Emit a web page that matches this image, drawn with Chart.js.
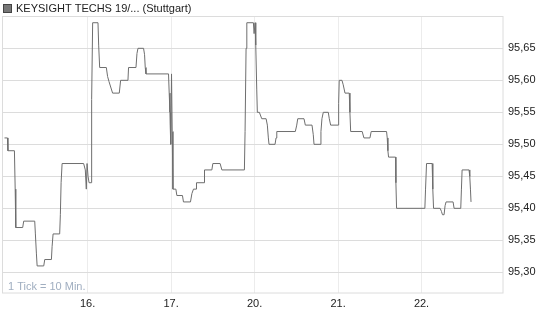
<!DOCTYPE html>
<html>
<head>
<meta charset="utf-8">
<script src="https://cdn.jsdelivr.net/npm/chart.js@4/dist/chart.umd.min.js"></script>
<style>
html,body{margin:0;padding:0;background:#fff;}
#wrap{width:545px;height:327px;position:relative;}
</style>
</head>
<body>
<div id="wrap"><canvas id="c" width="545" height="327"></canvas></div>
<script>
const seriesTitle = 'KEYSIGHT TECHS 19/... (Stuttgart)';
const noteText = '1 Tick = 10 Min.';
const xTickPositions = [1, 2, 3, 4, 5];
const xTickLabels = ['16.', '17.', '20.', '21.', '22.'];
const yTicks = [95.30, 95.35, 95.40, 95.45, 95.50, 95.55, 95.60, 95.65];

// time in trading-day units (0 = 15th), price values
const times = [
  0.004,0.039,0.045,0.123,0.132,0.139,0.222,0.234,0.366,0.374,
  0.386,0.395,0.474,0.486,0.566,0.574,0.586,0.665,0.673,0.682,
  0.694,0.952,0.972,0.984,0.993,1.005,1.017,1.044,1.048,1.060,
  1.124,1.132,1.144,1.224,1.239,1.256,1.299,1.379,1.395,1.483,
  1.490,1.579,1.591,1.603,1.670,1.682,1.690,1.699,1.969,1.977,
  1.986,1.989,1.993,1.998,2.005,2.013,2.022,2.057,2.069,2.136,
  2.148,2.232,2.249,2.268,2.300,2.304,2.396,2.400,2.488,2.500,
  2.587,2.608,2.878,2.886,2.898,2.907,2.986,2.994,3.006,3.014,
  3.026,3.033,3.057,3.086,3.138,3.153,3.165,3.173,3.245,3.257,
  3.266,3.488,3.505,3.517,3.592,3.608,3.688,3.703,3.712,3.784,
  3.795,3.807,3.823,3.883,3.895,3.911,4.002,4.007,4.014,4.047,
  4.062,4.083,4.134,4.142,4.151,4.289,4.310,4.382,4.397,4.581,
  4.589,4.597,4.605,4.689,4.693,4.701,5.040,5.048,5.060,5.127,
  5.135,5.144,5.223,5.239,5.251,5.270,5.282,5.294,5.378,5.390,
  5.470,5.478,5.486,5.569,5.578,5.586,5.593
];
const prices = [
  95.51,95.51,95.49,95.49,95.43,95.37,95.37,95.38,95.38,95.36,
  95.33,95.31,95.31,95.32,95.32,95.34,95.36,95.36,95.39,95.44,
  95.47,95.47,95.46,95.43,95.47,95.45,95.44,95.44,95.57,95.69,
  95.69,95.655,95.62,95.62,95.606,95.598,95.58,95.58,95.60,95.60,
  95.62,95.62,95.642,95.65,95.65,95.64,95.62,95.61,95.61,95.58,
  95.55,95.53,95.55,95.50,95.61,95.52,95.43,95.43,95.42,95.42,
  95.41,95.41,95.423,95.43,95.43,95.44,95.44,95.46,95.46,95.47,
  95.47,95.46,95.46,95.52,95.65,95.69,95.69,95.673,95.69,95.655,
  95.585,95.55,95.55,95.54,95.54,95.53,95.51,95.50,95.50,95.51,
  95.52,95.52,95.53,95.54,95.54,95.53,95.53,95.515,95.50,95.50,
  95.52,95.54,95.55,95.55,95.54,95.53,95.53,95.564,95.60,95.60,
  95.593,95.58,95.58,95.55,95.52,95.52,95.51,95.51,95.52,95.52,
  95.51,95.49,95.48,95.48,95.44,95.40,95.40,95.43,95.47,95.47,
  95.43,95.40,95.40,95.395,95.39,95.39,95.404,95.41,95.41,95.40,
  95.40,95.43,95.46,95.46,95.45,95.43,95.41
];

const FONT = "'Liberation Sans', Arial, sans-serif";

const decor = {
  id: 'decor',
  beforeDatasetsDraw(chart) {
    const {ctx, chartArea: a} = chart;
    ctx.save();
    ctx.fillStyle = '#a0aec0';
    ctx.font = '11px ' + FONT;
    ctx.textBaseline = 'middle';
    ctx.textAlign = 'left';
    ctx.fillText(noteText, a.left + 5, a.bottom - 6);
    ctx.restore();
  },
  afterDraw(chart) {
    const {ctx, chartArea: a} = chart;
    ctx.save();
    ctx.strokeStyle = '#dcdcdc';
    ctx.lineWidth = 1;
    ctx.strokeRect(Math.round(a.left) - 0.5, Math.round(a.top) + 0.5, Math.round(a.right - a.left) + 0.5, Math.round(a.bottom - a.top) - 0.5);
    // legend
    ctx.fillStyle = '#777';
    ctx.fillRect(3.5, 4.5, 8, 8);
    ctx.strokeStyle = '#444';
    ctx.strokeRect(3.5, 4.5, 8, 8);
    ctx.fillStyle = '#222';
    ctx.font = '11px ' + FONT;
    ctx.textBaseline = 'middle';
    ctx.textAlign = 'left';
    ctx.fillText(seriesTitle, 16, 9);
    ctx.restore();
  }
};

new Chart(document.getElementById('c'), {
  type: 'line',
  data: {
    datasets: [{
      data: times.map((t, i) => ({x: t, y: prices[i]})),
      borderColor: '#6e6e6e',
      borderWidth: 1,
      pointRadius: 0,
      tension: 0,
      fill: false
    }]
  },
  options: {
    responsive: false,
    animation: false,
    events: [],
    layout: {padding: {left: 3, top: 16, right: 0, bottom: 0}},
    plugins: {legend: {display: false}, tooltip: {enabled: false}},
    scales: {
      x: {
        type: 'linear',
        min: -0.014,
        max: 5.976,
        afterBuildTicks(scale) { scale.ticks = xTickPositions.map(v => ({value: v})); },
        afterFit(scale) { scale.height = 34; },
        ticks: {
          callback(v) { const i = xTickPositions.indexOf(v); return i >= 0 ? xTickLabels[i] : ''; },
          color: '#222',
          font: {family: FONT, size: 11},
          padding: 4,
          maxRotation: 0,
          autoSkip: false
        },
        grid: {color: '#ececec', drawTicks: false},
        border: {display: false}
      },
      y: {
        position: 'right',
        min: 95.2677,
        max: 95.7005,
        afterBuildTicks(scale) { scale.ticks = yTicks.map(v => ({value: v})); },
        afterFit(scale) { scale.width = 42; },
        ticks: {
          callback(v) { return Number(v).toFixed(2).replace('.', ','); },
          color: '#222',
          font: {family: FONT, size: 11},
          padding: 5,
          autoSkip: false
        },
        grid: {color: '#dcdcdc', drawTicks: false},
        border: {display: false}
      }
    }
  },
  plugins: [decor]
});
</script>
</body>
</html>
